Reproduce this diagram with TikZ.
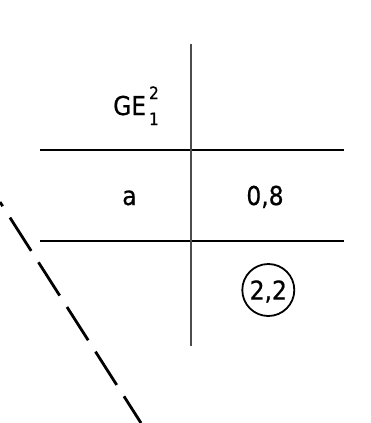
\documentclass[tikz,border=0pt]{standalone}
\usepackage{fontspec}
\setmainfont{DejaVu Sans Condensed}[FakeBold=0.7]
\begin{document}
\begin{tikzpicture}[x=1pt,y=-1pt,
  rule/.style={line width=2pt,black},
  vrule/.style={line width=2.2pt,black!70},
  cut/.style={line width=2.8pt,black,dash pattern=on 39.5pt off 13.5pt,dash phase=34.5pt},
  cell/.style={inner sep=0pt,font=\fontsize{26}{30}\selectfont},
  ring/.style={draw,circle,line width=1.8pt,minimum size=52pt,inner sep=0pt,text depth=0pt,font=\fontsize{26}{30}\selectfont}]
\useasboundingbox (0,0) rectangle (370,423);
% table frame
\coordinate (vt) at (191,44);
\coordinate (vb) at (191,346);
\coordinate (h1l) at (40,150);
\coordinate (h1r) at (344,150);
\coordinate (h2l) at (40,241);
\coordinate (h2r) at (344,241);
\draw[rule] (h1l) -- (h1r);
\draw[rule] (h2l) -- (h2r);
\draw[vrule] (vt) -- (vb);
% dashed cut line
\coordinate (ca) at (0,202);
\coordinate (cb) at (141,423);
\draw[cut] (ca) -- (cb);
% texts
\node[cell,anchor=base west] (ge) at (113,115) {GE\kern3pt\raisebox{-10pt}{\rlap{\fontsize{17}{18}\selectfont 1}}\raisebox{16pt}{\fontsize{17}{18}\selectfont 2}};
\node[cell,anchor=base] (a) at (129.5,205) {a};
\node[cell,anchor=base] (v) at (265,205) {0,8};
\node[ring] (r) at (268.3,290) {2,2};
\end{tikzpicture}
\end{document}
